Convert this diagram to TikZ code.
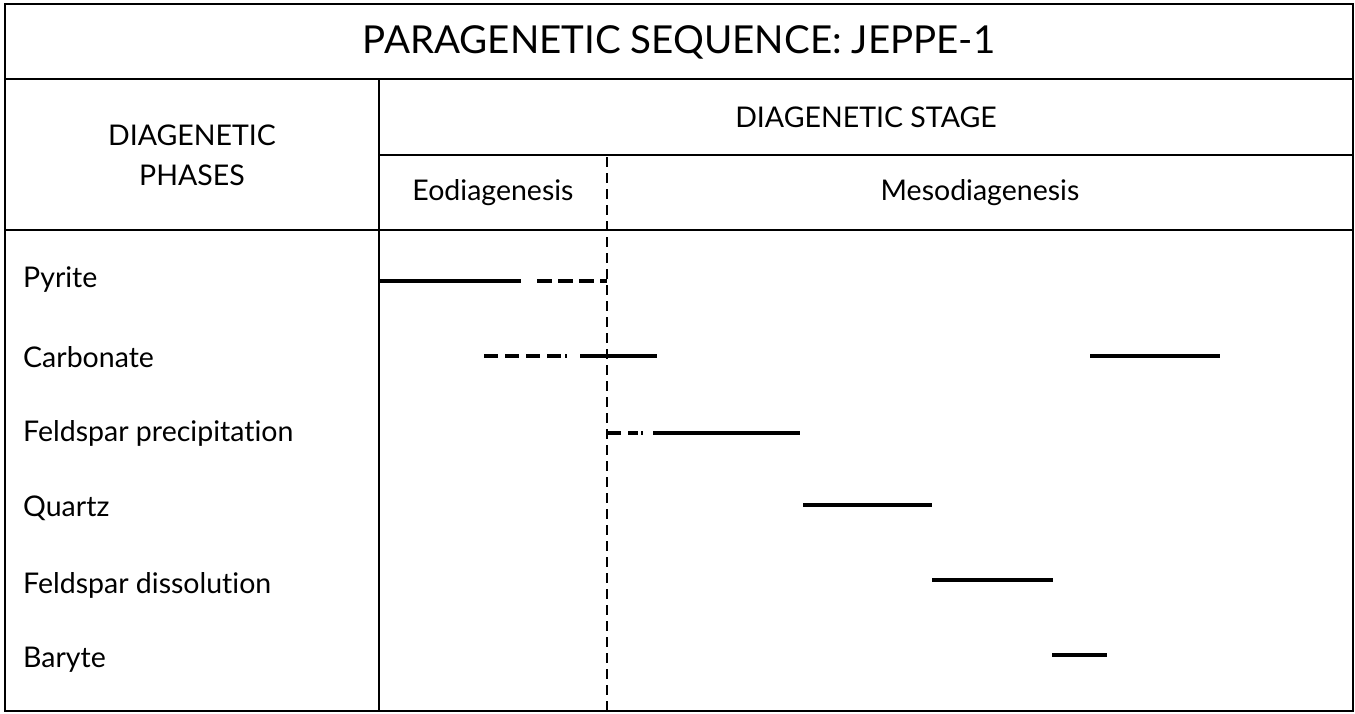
\documentclass[tikz,border=0pt]{standalone}
\usepackage{fontspec}
\setmainfont{Lato}[RawFeature={-liga;-dlig;-clig}]
\begin{document}
\begin{tikzpicture}[x=1pt,y=-1pt,
  frame/.style={line width=2.6pt},
  bar/.style={line width=3.6pt},
  vdash/.style={line width=2.8pt,dash pattern=on 10pt off 6pt},
  title/.style={font=\fontsize{38.5}{42}\selectfont,inner sep=0pt},
  head/.style={font=\fontsize{28.5}{40}\selectfont,inner sep=0pt,align=center},
  lab/.style={font=\fontsize{28.5}{34}\selectfont,inner sep=0pt,anchor=west}]
\useasboundingbox (0,0) rectangle (1355,713);
% frame
\draw[frame] (5,4) rectangle (1353,711);
\draw[frame] (5,79) -- (1353,79);
\draw[frame] (5,230) -- (1353,230);
\draw[frame] (379,79) -- (379,711);
\draw[frame] (379,155) -- (1353,155);
% dashed stage divider
\coordinate (dtop) at (607,157);
\coordinate (dbot) at (607,711);
\draw[vdash] (dtop) -- (dbot);
% texts
\node[title] (t) at (679,42) {PARAGENETIC SEQUENCE: JEPPE-1};
\node[head] (ph) at (192,155) {DIAGENETIC\\PHASES};
\node[head] (st) at (866,117) {DIAGENETIC STAGE};
\node[head] (eo) at (493,193) {Eodiagenesis};
\node[head] (me) at (980,193) {Mesodiagenesis};
\node[lab] (r1) at (23,280) {Pyrite};
\node[lab] (r2) at (23,357) {Carbonate};
\node[lab] (r3) at (23,433) {Feldspar precipitation};
\node[lab] (r4) at (23,508) {Quartz};
\node[lab] (r5) at (23,585) {Feldspar dissolution};
\node[lab] (r6) at (23,660) {Baryte};
% bars
\draw[bar] (380,281) -- (521,281);
\draw[line width=3.6pt,dash pattern=on 15pt off 6pt on 15pt off 6pt on 15pt off 6pt] (537,281) -- (607,281);
\draw[line width=3.6pt,dash pattern=on 14pt off 7pt] (484,356) -- (568,356);
\draw[line width=3.6pt] (565,356) -- (567,356);
\draw[bar] (580,356) -- (657,356);
\draw[bar] (1090,356) -- (1220,356);
\draw[line width=3.6pt,dash pattern=on 14pt off 7pt on 10pt off 3pt on 2pt off 10pt] (607,433) -- (657,433);
\draw[bar] (657,433) -- (800,433);
\draw[bar] (803,505) -- (932,505);
\draw[bar] (932,580) -- (1053,580);
\draw[bar] (1052,655) -- (1107,655);
\end{tikzpicture}
\end{document}
